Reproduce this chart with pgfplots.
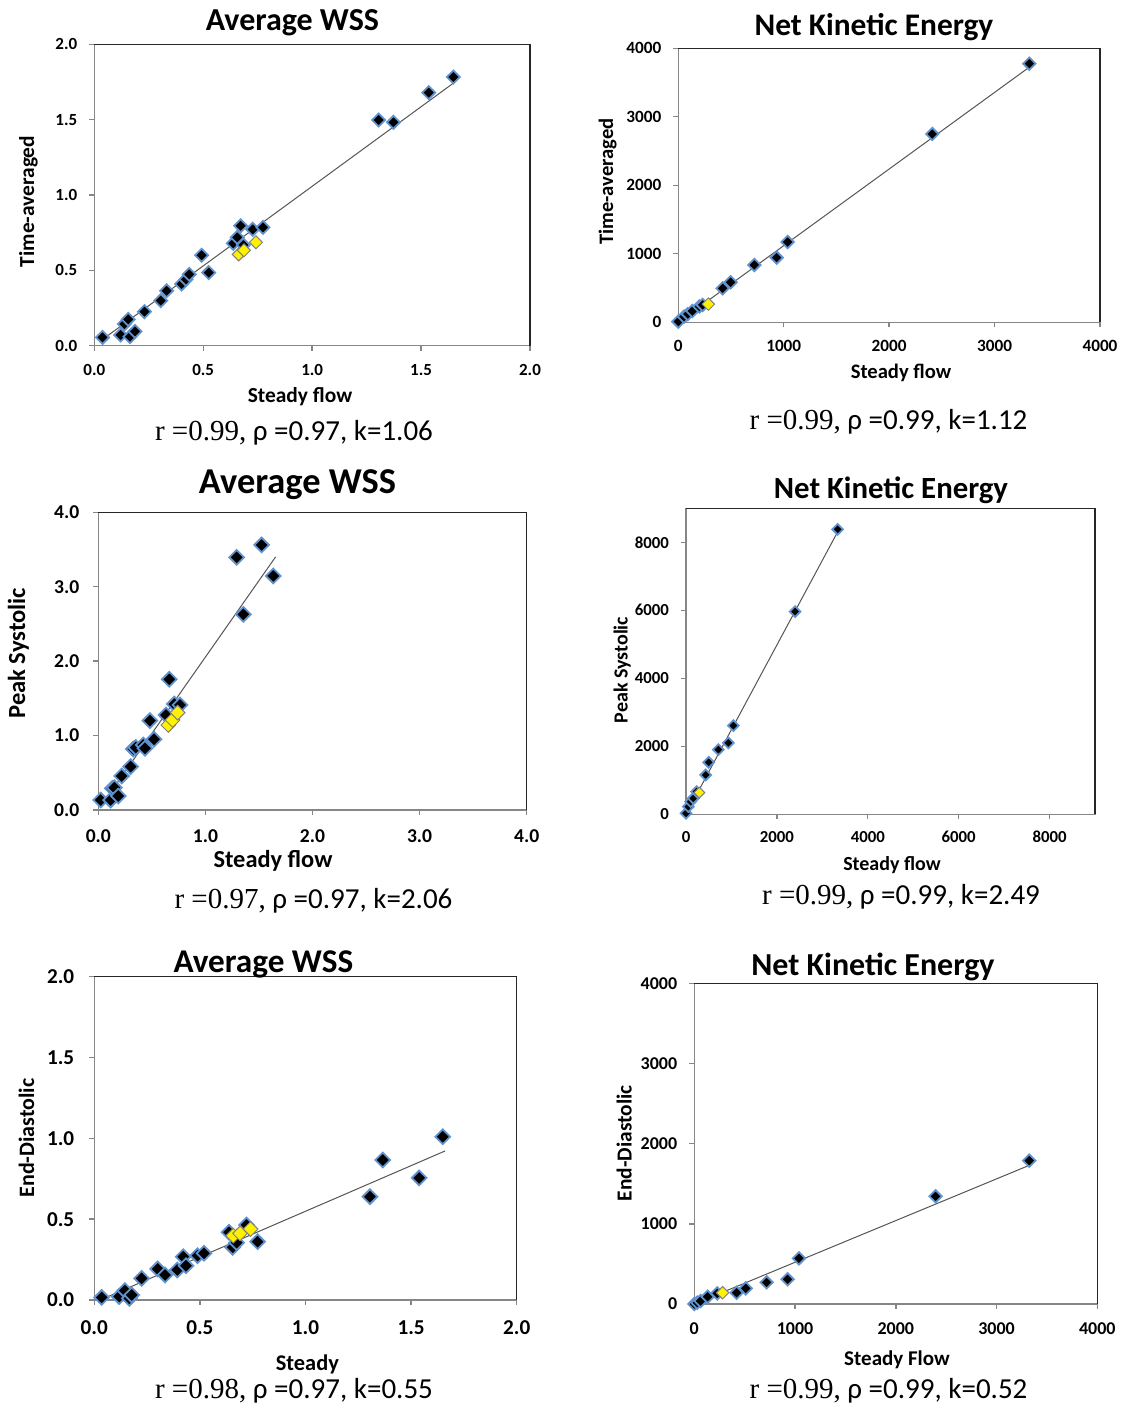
\documentclass[border=0pt]{standalone}
\usepackage{pgfplots}
\pgfplotsset{compat=1.18}
\usepackage{fontspec}
\setmainfont{Carlito}
\newfontfamily\timesfont{Liberation Serif}

\definecolor{edgeblue}{RGB}{96,146,206}
\definecolor{axisgray}{RGB}{134,134,134}
\definecolor{fitgray}{RGB}{85,85,85}

\newcommand{\fs}[1]{\fontsize{#1}{#1}\selectfont}
\newcommand{\frametr}{\draw[black!85, line width=0.7pt] (rel axis cs:0,1) -- (rel axis cs:1,1) -- (rel axis cs:1,0);}

\pgfplotsset{
  panel/.style={
    scale only axis, anchor=south west, clip=false,
    axis line style={axisgray, line width=0.7pt},
    tick align=outside, major tick length=2.5pt,
    tick style={axisgray, line width=0.7pt},
    xtick pos=left, ytick pos=left,
    /pgf/number format/assume math mode=true,
    tick label style={font=\fs{#1}\bfseries},
  },
  wss/.style={xmin=0, xmax=#1, ymin=0, ymax=#1,
    /pgf/number format/fixed, /pgf/number format/fixed zerofill,
    /pgf/number format/precision=1},
  ke/.style={xmin=0, xmax=#1, ymin=0, ymax=#1,
    /pgf/number format/fixed, /pgf/number format/set thousands separator={}},
  blk/.style={only marks, mark=square*, mark size=#1,
    mark options={rotate=45, fill=black, draw=edgeblue, line width=0.9pt}},
  yel/.style={only marks, mark=square*, mark size=#1,
    mark options={rotate=45, fill=yellow, draw=gray, line width=0.5pt}},
  trend/.style={no marks, fitgray, line width=0.5pt},
}

\begin{document}
\begin{tikzpicture}
\useasboundingbox (0,0) rectangle (563pt,704pt);

% ---------- top left: average WSS, time-averaged ----------
\begin{axis}[panel=8.5, wss=2, at={(47.15pt,531.15pt)},
  width=217.85pt, height=150.7pt,
  xtick={0,0.5,1,1.5,2}, ytick={0,0.5,1,1.5,2},
  yticklabel style={xshift=-2.5pt}, xticklabel style={yshift=-3.5pt}]
\addplot[trend] coordinates {(0.045,0.049)(1.651,1.745)};
\addplot[blk=2.3] coordinates {
  (0.038,0.055)(0.121,0.071)(0.164,0.060)(0.187,0.095)(0.138,0.144)
  (0.156,0.175)(0.230,0.226)(0.305,0.299)(0.332,0.365)(0.401,0.409)
  (0.421,0.440)(0.436,0.473)(0.493,0.600)(0.525,0.485)(0.638,0.679)
  (0.656,0.719)(0.672,0.796)(0.684,0.668)(0.727,0.772)(0.774,0.785)
  (1.305,1.498)(1.373,1.482)(1.535,1.679)(1.648,1.783)};
\addplot[yel=2.3] coordinates {(0.663,0.606)(0.687,0.633)(0.742,0.686)};
\frametr
\end{axis}

% ---------- top right: net kinetic energy, time-averaged ----------
\begin{axis}[panel=8.6, ke=4000, at={(339.15pt,542.85pt)},
  width=210.85pt, height=137pt,
  xtick={0,1000,2000,3000,4000}, ytick={0,1000,2000,3000,4000},
  yticklabel style={xshift=-2.5pt}, xticklabel style={yshift=-3pt}]
\addplot[trend] coordinates {(0,0)(3330,3725)};
\addplot[blk=2.2] coordinates {
  (0,10)(54,83)(90,120)(133,165)(200,230)(231,253)(421,496)(496,584)
  (721,837)(933,944)(1037,1173)(2409,2749)(3330,3776)};
\addplot[yel=2.2] coordinates {(285,265)};
\frametr
\end{axis}

% ---------- middle left: average WSS, peak systolic ----------
\begin{axis}[panel=9.8, wss=4, at={(49.15pt,299pt)},
  width=214.2pt, height=148.85pt,
  xtick={0,1,2,3,4}, ytick={0,1,2,3,4},
  yticklabel style={xshift=-3.5pt}, xticklabel style={yshift=-4pt}]
\addplot[trend] coordinates {(0.03,0.062)(1.655,3.40)};
\addplot[blk=2.6] coordinates {
  (0.022,0.134)(0.115,0.134)(0.131,0.291)(0.150,0.300)(0.187,0.188)
  (0.218,0.457)(0.302,0.582)(0.327,0.820)(0.350,0.840)(0.420,0.873)
  (0.436,0.829)(0.482,1.200)(0.520,0.950)(0.632,1.277)(0.663,1.756)
  (0.710,1.424)(0.763,1.411)(1.292,3.395)(1.525,3.561)(1.354,2.629)
  (1.634,3.145)};
\addplot[yel=2.6] coordinates {(0.654,1.142)(0.694,1.209)(0.741,1.308)};
\frametr
\end{axis}

% ---------- middle right: net kinetic energy, peak systolic ----------
\begin{axis}[panel=8.4, ke=9000, at={(343pt,296.85pt)},
  width=204.5pt, height=153pt,
  xtick={0,2000,4000,6000,8000}, ytick={0,2000,4000,6000,8000},
  yticklabel style={xshift=-2.5pt}, xticklabel style={yshift=-2.5pt}]
\addplot[trend] coordinates {(0,0)(3330,8290)};
\addplot[blk=1.9] coordinates {
  (0,29)(51,225)(103,372)(161,470)(235,667)(433,1157)(499,1529)
  (711,1902)(932,2098)(1041,2608)(2399,5961)(3337,8382)};
\addplot[yel=1.9] coordinates {(293,637)};
\frametr
\end{axis}

% ---------- bottom left: average WSS, end-diastolic ----------
\begin{axis}[panel=10.6, wss=2, at={(47.15pt,54pt)},
  width=211.2pt, height=161.65pt,
  xtick={0,0.5,1,1.5,2}, ytick={0,0.5,1,1.5,2},
  yticklabel style={xshift=-4pt}, xticklabel style={yshift=-4.5pt}]
\addplot[trend] coordinates {(0.063,0.02)(1.661,0.922)};
\addplot[blk=2.6] coordinates {
  (0.035,0.016)(0.118,0.021)(0.145,0.058)(0.166,0.010)(0.177,0.031)
  (0.224,0.134)(0.300,0.192)(0.335,0.155)(0.393,0.186)(0.421,0.268)
  (0.434,0.212)(0.489,0.274)(0.519,0.289)(0.638,0.419)(0.655,0.326)
  (0.674,0.355)(0.721,0.464)(0.773,0.361)(1.305,0.639)(1.366,0.866)
  (1.538,0.755)(1.650,1.010)};
\addplot[yel=2.6] coordinates {(0.658,0.398)(0.690,0.412)(0.740,0.439)};
\frametr
\end{axis}

% ---------- bottom right: net kinetic energy, end-diastolic ----------
\begin{axis}[panel=9, ke=4000, at={(347.15pt,52pt)},
  width=201.5pt, height=160.35pt,
  xtick={0,1000,2000,3000,4000}, ytick={0,1000,2000,3000,4000},
  yticklabel style={xshift=-2.5pt}, xticklabel style={yshift=-3.5pt}]
\addplot[trend] coordinates {(0,0)(3335,1735)};
\addplot[blk=2.2] coordinates {
  (0,0)(30,17)(63,37)(132,91)(228,133)(420,141)(510,195)(718,270)
  (926,308)(1039,570)(2395,1343)(3325,1788)};
\addplot[yel=2.2] coordinates {(281,141)};
\frametr
\end{axis}

% ---------- titles ----------
\node[anchor=base, font=\fs{16}\bfseries]   at (146.25pt,688.5pt)  {Average WSS};
\node[anchor=base, font=\fs{15.7}\bfseries] at (437pt,686pt)       {Net Kinetic Energy};
\node[anchor=base, font=\fs{18.2}\bfseries] at (148.75pt,457.35pt) {Average WSS};
\node[anchor=base, font=\fs{15.4}\bfseries] at (445.5pt,454.85pt)  {Net Kinetic Energy};
\node[anchor=base, font=\fs{16.6}\bfseries] at (131.7pt,217.65pt)  {Average WSS};
\node[anchor=base, font=\fs{16}\bfseries]   at (436.5pt,216.15pt)  {Net Kinetic Energy};

% ---------- x labels ----------
\node[anchor=base, font=\fs{10.7}\bfseries] at (150pt,502.5pt)   {Steady flow};
\node[anchor=base, font=\fs{10.3}\bfseries] at (450.5pt,514.5pt) {Steady flow};
\node[anchor=base, font=\fs{12.2}\bfseries] at (136.5pt,270pt)   {Steady flow};
\node[anchor=base, font=\fs{10}\bfseries]   at (446pt,268.65pt)  {Steady flow};
\node[anchor=base, font=\fs{11.2}\bfseries] at (153.7pt,18.5pt)  {Steady};
\node[anchor=base, font=\fs{10.5}\bfseries] at (448.5pt,21.15pt) {Steady Flow};

% ---------- y labels ----------
\node[anchor=base, rotate=90, font=\fs{10.7}\bfseries] at (17pt,603.25pt)     {Time-averaged};
\node[anchor=base, rotate=90, font=\fs{10.3}\bfseries] at (306.5pt,613.15pt)  {Time-averaged};
\node[anchor=base, rotate=90, font=\fs{12.3}\bfseries] at (12.5pt,377.35pt)   {Peak Systolic};
\node[anchor=base, rotate=90, font=\fs{10}\bfseries]   at (313.75pt,369pt)    {Peak Systolic};
\node[anchor=base, rotate=90, font=\fs{11}\bfseries]   at (17pt,135pt)        {End-Diastolic};
\node[anchor=base, rotate=90, font=\fs{10.7}\bfseries] at (315.75pt,132.35pt) {End-Diastolic};

% ---------- statistics ----------
\node[anchor=base, font=\fs{14.5}] at (147pt,483.65pt)   {{\timesfont r =0.99,} ρ =0.97, k=1.06};
\node[anchor=base, font=\fs{14.5}] at (444.25pt,489pt)   {{\timesfont r =0.99,} ρ =0.99, k=1.12};
\node[anchor=base, font=\fs{14.5}] at (156.75pt,249.85pt) {{\timesfont r =0.97,} ρ =0.97, k=2.06};
\node[anchor=base, font=\fs{14.5}] at (450.5pt,251.5pt)  {{\timesfont r =0.99,} ρ =0.99, k=2.49};
\node[anchor=base, font=\fs{14.5}] at (147pt,4.85pt)     {{\timesfont r =0.98,} ρ =0.97, k=0.55};
\node[anchor=base, font=\fs{14.5}] at (444.25pt,4.85pt)  {{\timesfont r =0.99,} ρ =0.99, k=0.52};
\end{tikzpicture}
\end{document}
